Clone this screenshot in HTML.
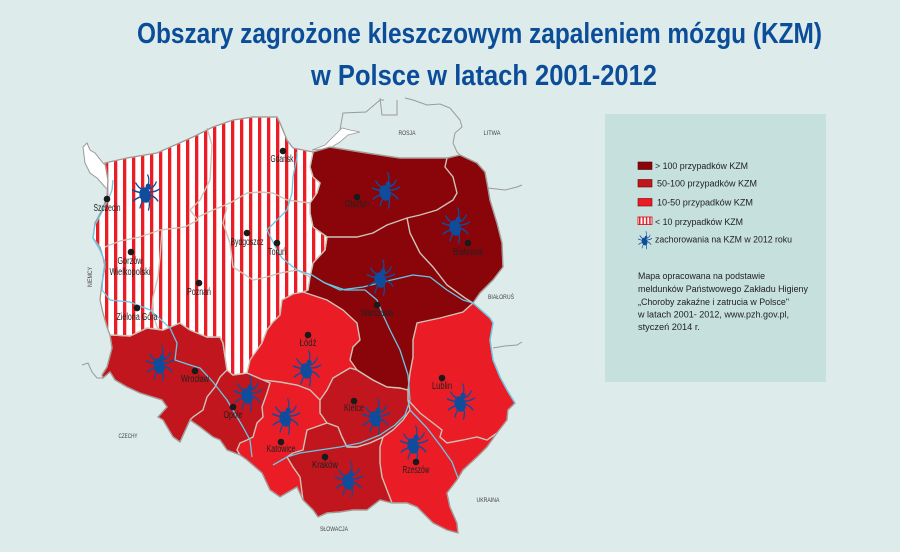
<!DOCTYPE html>
<html><head><meta charset="utf-8"><style>
html,body{margin:0;padding:0;background:#ddebeb;}
svg{display:block;}
.city{font-family:"Liberation Sans",sans-serif;font-size:10px;fill:#222;text-anchor:middle;}
.ctry{font-family:"Liberation Sans",sans-serif;font-size:6.5px;fill:#444;text-anchor:middle;}
.leg{font-family:"Liberation Sans",sans-serif;font-size:9px;fill:#222;}
</style></head><body>
<svg width="900" height="552" viewBox="0 0 900 552" xmlns="http://www.w3.org/2000/svg">
<defs>
<pattern id="st" patternUnits="userSpaceOnUse" x="96" y="0" width="9" height="9"><rect width="9" height="9" fill="#fff"/><rect width="3.3" height="9" fill="#ec1c24"/></pattern>
<pattern id="st2" patternUnits="userSpaceOnUse" x="639" y="0" width="3.4" height="9"><rect width="3.4" height="9" fill="#fff"/><rect width="1.5" height="9" fill="#ec1c24"/></pattern>
<g id="tk" fill="#0f4d9c" stroke="#0f4d9c" stroke-width="1.5" stroke-linecap="round">
 <g transform="scale(0.85,1)">
 <ellipse cx="-1" cy="3" rx="6.5" ry="8" transform="rotate(-25 -1 3)" stroke="none"/>
 <ellipse cx="2.5" cy="-5.5" rx="3" ry="3" stroke="none"/>
 <path fill="none" d="M3,-8 Q4,-14 2,-17 M-3,-2 Q-9,-4 -12,-9 M-4,1 Q-11,0 -16,-2 M-4,4 Q-11,6 -15,9 M-2,7 Q-6,11 -7,16 M4,-3 Q10,-5 12,-10 M5,0 Q11,0 16,-3 M5,3 Q11,5 14,9 M3,7 Q5,12 3,18"/>
 </g>
</g>
<polygon id="plo" points="105,163 127,158 157,153 193,137 213,127 233,120 253,117 277,117 280,123 287,140 293,148 313,152 330,147 367,153 400,158 447,158 460,155 477,163 485,172 488,188 490,200 497,223 502,243 503,267 493,280 480,293 473,303 490,318 493,323 490,340 493,360 500,377 507,390 515,403 508,410 507,420 497,433 487,447 477,457 463,470 457,480 447,493 450,507 457,523 458,533 447,530 433,523 417,507 407,503 392,503 380,500 367,510 353,510 340,512 327,513 318,517 313,510 303,500 297,487 280,497 270,490 262,473 247,460 240,455 227,450 220,440 213,437 200,427 190,420 180,442 173,437 163,420 158,417 167,407 162,400 140,393 127,387 115,380 110,372 103,378 102,375 107,367 112,348 110,335 107,327 103,313 100,300 102,283 105,267 103,257 100,247 93,238 95,223 102,210 107,197 108,180"/>
</defs>
<rect width="900" height="552" fill="#ddebeb"/>

<!-- title -->
<text x="137" y="43" textLength="685" lengthAdjust="spacingAndGlyphs" font-family="Liberation Sans, sans-serif" font-weight="bold" font-size="29" fill="#0c4d9a">Obszary zagrożone kleszczowym zapaleniem mózgu (KZM)</text>
<text x="311" y="85" textLength="346" lengthAdjust="spacingAndGlyphs" font-family="Liberation Sans, sans-serif" font-weight="bold" font-size="29" fill="#0c4d9a">w Polsce w latach 2001-2012</text>

<!-- neighbours -->
<g fill="none" stroke="#9a9a9a" stroke-width="1">
<polyline points="340,130 343,113 366,112 380,100 384,100"/>
<polyline points="380,98 382,115 397,115 397,100"/>
<polyline points="405,98 413,100 427,105 440,104 450,108 460,120 462,127 455,133 453,143 457,152 460,155"/>
<polyline points="488,188 505,190 517,187 522,185"/>
<polyline points="493,348 505,346 517,345 522,342"/>
<polyline points="82,365 88,363 92,372 97,378 103,378"/>
</g>
<polygon points="83,147 87,143 90,150 95,153 103,163 105,165 113,170 113,187 109,192 105,187 97,178 90,173 85,163" fill="#fff" stroke="#9a9a9a" stroke-width="1"/>
<polygon points="312,150 325,145 335,135 342,128 350,130 360,132 348,135 340,142 330,148" fill="#fff" stroke="#9a9a9a" stroke-width="0.8"/>

<!-- Poland base (bright) -->
<use href="#plo" fill="#ea1d27" stroke="#cdc3b9" stroke-width="1.4"/>

<!-- medium regions -->
<g fill="#c1161d" stroke="#cdc3b9" stroke-width="1.4">
<polygon points="110,335 113,335 130,336 147,328 163,330 180,323 190,330 207,337 220,337 223,343 227,370 233,375 247,373 263,380 270,383 267,393 262,407 263,417 257,423 253,437 247,440 240,443 237,450 240,455 227,450 220,440 213,437 200,427 190,420 180,442 173,437 163,420 158,417 167,407 162,400 140,393 127,387 115,380 110,372 103,378 102,375 107,367 112,348"/>
<polygon points="320,400 327,390 333,378 350,368 357,370 373,380 387,387 400,388 408,390 408,400 410,410 403,420 393,430 383,437 370,443 357,447 347,447 342,437 338,427 327,423 320,413"/>
<polygon points="287,457 293,453 303,450 307,430 327,423 338,427 342,437 347,447 357,447 370,443 383,437 380,447 380,463 382,477 387,490 392,503 380,500 367,510 353,510 340,512 327,513 318,517 313,510 303,500 300,477 293,467"/>
</g>
<!-- dark -->
<polygon fill="#890509" stroke="#cdc3b9" stroke-width="1.4" points="313,152 330,147 367,153 400,158 447,158 460,155 477,163 485,172 488,188 490,200 497,223 502,243 503,267 493,280 480,293 473,303 463,312 440,318 417,323 413,340 413,357 410,373 408,390 400,388 387,387 373,380 357,370 350,360 353,347 360,340 357,323 343,310 327,300 303,292 308,290 310,277 313,263 325,250 327,237 313,227 310,213 310,203 317,193 320,183 313,177 310,167"/>
<!-- striped -->
<polygon fill="url(#st)" stroke="#cdc3b9" stroke-width="1.4" points="105,163 127,158 157,153 193,137 213,127 233,120 253,117 277,117 280,123 287,140 293,148 313,152 310,167 313,177 320,183 317,193 310,203 310,213 313,227 327,237 325,250 313,263 310,277 308,290 303,292 293,294 282,300 280,315 273,322 267,330 262,343 250,360 247,373 233,375 227,370 223,343 220,337 207,337 190,330 180,323 163,330 147,328 130,336 113,335 110,335 107,327 103,313 100,300 102,283 105,267 103,257 100,247 93,238 95,223 102,210 107,197 108,180"/>

<!-- internal borders -->
<g fill="none" stroke="#cdc3b9" stroke-width="1.4">
<polyline points="105,247 120,241 140,237 160,230 185,227 198,220 190,210 200,200 210,180 212,145 207,128"/>
<polyline points="162,230 160,257 158,277 153,297 152,310 157,327 160,330"/>
<polyline points="198,217 213,210 230,203 247,193 260,192 273,193 287,200 310,203"/>
<polyline points="227,207 223,223 230,243 233,267 253,280 267,277 280,273 297,270 310,277"/>
<polyline points="327,237 343,237 357,237 373,233 387,225 407,218 420,215 437,210 453,200 457,193 453,177 445,167 447,158"/>
<polyline points="407,218 410,233 420,253 433,267 447,285 465,298 473,303"/>
<polyline points="227,370 220,377 215,387 207,397 203,410 193,417 190,420"/>
<polyline points="263,380 280,382 297,385 310,390 320,400"/>
<polyline points="408,400 420,413 433,423 442,430 440,437 447,443 463,440 477,437 487,440 497,433"/>
</g>
<!-- outer outline -->
<use href="#plo" fill="none" stroke="#969696" stroke-width="1"/>

<!-- rivers -->
<g fill="none" stroke="#66c8e6" stroke-width="1.3" stroke-linejoin="round">
<polyline points="273,465 287,457 300,453 320,450 340,447 360,443 380,435 395,425 405,415 410,400 408,375 400,350 390,330 383,315 377,300 365,290 345,290 325,283 312,275 297,270 282,258 277,250 267,230 280,217 287,210 292,193 293,177 297,157 297,152"/>
<polyline points="312,275 323,282 340,290 363,287 383,282 413,275 430,277 447,290 463,300 473,303 490,318 493,323 490,340 493,360 500,377 507,390 515,403"/>
<polyline points="410,410 427,428 440,445 452,462 458,478"/>
<polyline points="252,457 250,440 243,427 237,417 227,400 213,382 200,368 190,365 175,360 177,343 170,328 150,310 130,302 110,300 102,290 103,275 105,262 100,250 93,238 95,225 102,212 108,200 112,190 113,180"/>
</g>

<!-- ticks -->
<use href="#tk" transform="translate(146,192)"/>
<use href="#tk" transform="translate(386,190)"/>
<use href="#tk" transform="translate(456,225)"/>
<use href="#tk" transform="translate(381,277)"/>
<use href="#tk" transform="translate(160,363)"/>
<use href="#tk" transform="translate(248,393)"/>
<use href="#tk" transform="translate(307,368)"/>
<use href="#tk" transform="translate(286,416)"/>
<use href="#tk" transform="translate(376,416)"/>
<use href="#tk" transform="translate(461,401)"/>
<use href="#tk" transform="translate(414,443)"/>
<use href="#tk" transform="translate(349,479)"/>

<!-- city dots -->
<g fill="#1a1a1a">
<circle cx="283" cy="151" r="3.3"/><circle cx="107" cy="199" r="3.3"/><circle cx="131" cy="252" r="3.3"/>
<circle cx="137" cy="308" r="3.3"/><circle cx="199" cy="283" r="3.3"/><circle cx="247" cy="233" r="3.3"/>
<circle cx="277" cy="243" r="3.3"/><circle cx="357" cy="197" r="3.3"/><circle cx="468" cy="243" r="3.3"/>
<circle cx="377" cy="305" r="3.3"/><circle cx="308" cy="335" r="3.3"/><circle cx="442" cy="378" r="3.3"/>
<circle cx="354" cy="401" r="3.3"/><circle cx="416" cy="462" r="3.3"/><circle cx="325" cy="457" r="3.3"/>
<circle cx="281" cy="442" r="3.3"/><circle cx="195" cy="371" r="3.3"/><circle cx="233" cy="407" r="3.3"/>
</g>
<g class="city">
<text x="282" y="162" textLength="23" lengthAdjust="spacingAndGlyphs">Gdańsk</text>
<text x="107" y="211" textLength="27" lengthAdjust="spacingAndGlyphs">Szczecin</text>
<text x="130" y="264" textLength="25" lengthAdjust="spacingAndGlyphs">Gorzów</text>
<text x="130" y="275" textLength="41" lengthAdjust="spacingAndGlyphs">Wielkopolski</text>
<text x="137" y="320" textLength="41" lengthAdjust="spacingAndGlyphs">Zielona Góra</text>
<text x="199" y="295" textLength="24" lengthAdjust="spacingAndGlyphs">Poznań</text>
<text x="247" y="245" textLength="33" lengthAdjust="spacingAndGlyphs">Bydgoszcz</text>
<text x="277" y="255" textLength="18" lengthAdjust="spacingAndGlyphs">Toruń</text>
<text x="357" y="207" textLength="24" lengthAdjust="spacingAndGlyphs">Olsztyn</text>
<text x="468" y="255" textLength="30" lengthAdjust="spacingAndGlyphs">Białystok</text>
<text x="377" y="316" textLength="32" lengthAdjust="spacingAndGlyphs">Warszawa</text>
<text x="308" y="346" textLength="17" lengthAdjust="spacingAndGlyphs">Łódź</text>
<text x="442" y="389" textLength="20" lengthAdjust="spacingAndGlyphs">Lublin</text>
<text x="354" y="411" textLength="20" lengthAdjust="spacingAndGlyphs">Kielce</text>
<text x="416" y="473" textLength="27" lengthAdjust="spacingAndGlyphs">Rzeszów</text>
<text x="325" y="468" textLength="26" lengthAdjust="spacingAndGlyphs">Kraków</text>
<text x="281" y="452" textLength="29" lengthAdjust="spacingAndGlyphs">Katowice</text>
<text x="195" y="382" textLength="28" lengthAdjust="spacingAndGlyphs">Wrocław</text>
<text x="233" y="418" textLength="19" lengthAdjust="spacingAndGlyphs">Opole</text>
</g>
<g class="ctry">
<text x="407" y="135" textLength="17" lengthAdjust="spacingAndGlyphs">ROSJA</text>
<text x="492" y="135" textLength="17" lengthAdjust="spacingAndGlyphs">LITWA</text>
<text x="501" y="299" textLength="26" lengthAdjust="spacingAndGlyphs">BIAŁORUŚ</text>
<text x="488" y="502" textLength="23" lengthAdjust="spacingAndGlyphs">UKRAINA</text>
<text x="334" y="531" textLength="28" lengthAdjust="spacingAndGlyphs">SŁOWACJA</text>
<text x="128" y="438" textLength="19" lengthAdjust="spacingAndGlyphs">CZECHY</text>
<text x="0" y="0" textLength="20" lengthAdjust="spacingAndGlyphs" transform="translate(92,277) rotate(-90)">NIEMCY</text>
</g>

<!-- legend -->
<rect x="605" y="114" width="221" height="268" fill="#c5e0dd"/>
<rect x="638" y="162" width="14" height="7.5" fill="#890509" stroke="#5a0000" stroke-width="0.6"/>
<rect x="638" y="179.5" width="14" height="7.5" fill="#c1161d" stroke="#6a0000" stroke-width="0.6"/>
<rect x="638" y="198.5" width="14" height="7.5" fill="#ea1d27" stroke="#7a0000" stroke-width="0.6"/>
<rect x="638" y="217" width="14" height="7.5" fill="url(#st2)" stroke="#c01018" stroke-width="0.8"/>
<use href="#tk" transform="translate(645,240) scale(0.5)"/>
<g class="leg">
<text x="655" y="169" textLength="93" lengthAdjust="spacingAndGlyphs">&gt; 100 przypadków KZM</text>
<text x="657" y="186.5" textLength="100" lengthAdjust="spacingAndGlyphs">50-100 przypadków KZM</text>
<text x="657" y="205.5" textLength="96" lengthAdjust="spacingAndGlyphs">10-50 przypadków KZM</text>
<text x="655" y="225" textLength="88" lengthAdjust="spacingAndGlyphs">&lt; 10 przypadków KZM</text>
<text x="655" y="242.5" textLength="137" lengthAdjust="spacingAndGlyphs">zachorowania na KZM w 2012 roku</text>
<text x="638" y="279" textLength="127" lengthAdjust="spacingAndGlyphs">Mapa opracowana na podstawie</text>
<text x="638" y="292" textLength="170" lengthAdjust="spacingAndGlyphs">meldunków Państwowego Zakładu Higieny</text>
<text x="638" y="305" textLength="151" lengthAdjust="spacingAndGlyphs">„Choroby zakaźne i zatrucia w Polsce"</text>
<text x="638" y="317.5" textLength="151" lengthAdjust="spacingAndGlyphs">w latach 2001- 2012, www.pzh.gov.pl,</text>
<text x="638" y="330" textLength="62" lengthAdjust="spacingAndGlyphs">styczeń 2014 r.</text>
</g>
</svg>
</body></html>
